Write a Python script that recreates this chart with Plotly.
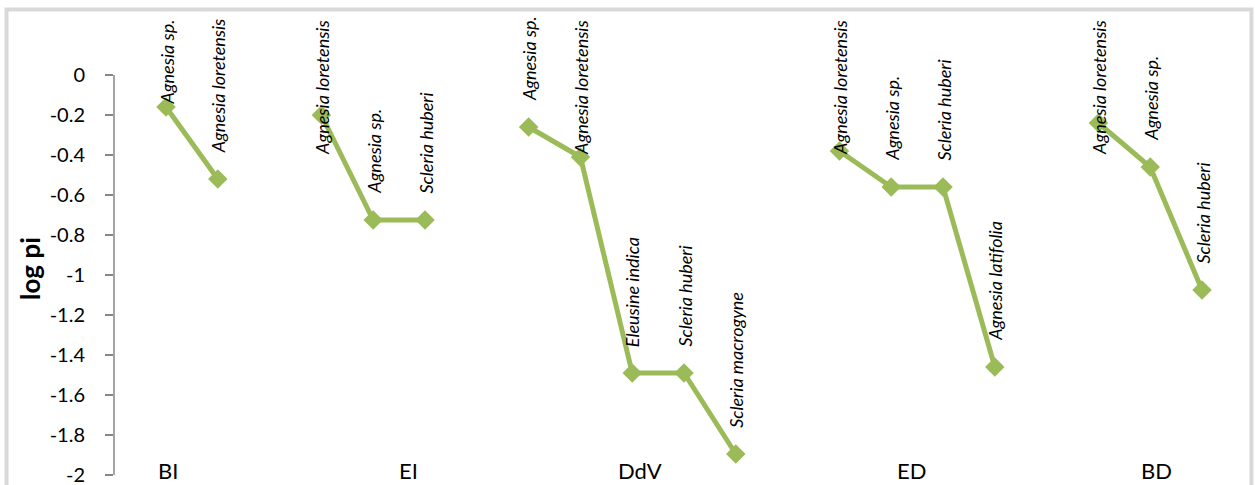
import plotly.graph_objects as go

# ---- data -------------------------------------------------------------
groups = ["BI", "EI", "DdV", "ED", "BD"]

species = [
    ["Agnesia sp.", "Agnesia loretensis"],
    ["Agnesia loretensis", "Agnesia sp.", "Scleria huberi"],
    ["Agnesia sp.", "Agnesia loretensis", "Eleusine indica", "Scleria huberi", "Scleria macrogyne"],
    ["Agnesia loretensis", "Agnesia sp.", "Scleria huberi", "Agnesia latifolia"],
    ["Agnesia loretensis", "Agnesia sp.", "Scleria huberi"],
]

log_pi = [
    [-0.16, -0.52],
    [-0.20, -0.725, -0.725],
    [-0.26, -0.41, -1.49, -1.49, -1.895],
    [-0.38, -0.56, -0.56, -1.46],
    [-0.24, -0.46, -1.075],
]

y_tick_vals = [0, -0.2, -0.4, -0.6, -0.8, -1, -1.2, -1.4, -1.6, -1.8, -2]
y_tick_text = ["0", "-0.2", "-0.4", "-0.6", "-0.8", "-1", "-1.2", "-1.4", "-1.6", "-1.8", "-2"]

# ---- styling ----------------------------------------------------------
GREEN = "#9BBB59"
AXIS_GREY = "#868686"
FONT = "Lato"
LABEL_SIZE = 18
CHAR_PX = 7.5          # approx. advance per character of the italic labels
PX_PER_UNIT = 200      # 200 px per unit of log pi
Y_BOTTOM, Y_TOP = -2.01, 0.3
LABEL_CEIL = 0.285     # labels never rise above this level
LABEL_GAP = 24         # px between a marker and its label

# x position of each group's name along the bottom
group_label_x = [0.04, 4.69, 9.15, 14.4, 19.13]

fig = go.Figure()
annotations = []

pos = 0
for g, (names, vals) in enumerate(zip(species, log_pi)):
    xs = list(range(pos, pos + len(vals)))
    fig.add_trace(go.Scatter(
        x=xs, y=vals, mode="lines+markers",
        line=dict(color=GREEN, width=5),
        marker=dict(symbol="diamond", size=15, color=GREEN),
        showlegend=False, hoverinfo="skip",
    ))
    for x, v, name in zip(xs, vals, names):
        bottom = v + LABEL_GAP / PX_PER_UNIT
        length = len(name) * CHAR_PX / PX_PER_UNIT
        if bottom + length > LABEL_CEIL:
            ay, anchor = LABEL_CEIL, "top"
        else:
            ay, anchor = bottom, "bottom"
        annotations.append(dict(
            x=x, y=ay, xref="x", yref="y", text=name, showarrow=False,
            textangle=-90, xanchor="center", yanchor=anchor,
            font=dict(family=FONT, size=LABEL_SIZE, color="black", style="italic"),
        ))
    pos += len(vals) + 1

for gx, name in zip(group_label_x, groups):
    annotations.append(dict(
        x=gx, y=-1.975, xref="x", yref="y", text=name, showarrow=False,
        xanchor="center", yanchor="middle",
        font=dict(family=FONT, size=22, color="black"),
    ))

annotations.append(dict(
    x=-0.074, y=-0.965, xref="paper", yref="y", text="<b>log pi</b>",
    showarrow=False, textangle=-90, xanchor="center", yanchor="middle",
    font=dict(family=FONT, size=26, color="black"),
))

shapes = [
    # vertical value axis
    dict(type="line", xref="paper", yref="y", x0=0, x1=0, y0=0, y1=-2,
         line=dict(color=AXIS_GREY, width=1.5)),
    # chart frame
    dict(type="rect", xref="paper", yref="paper",
         x0=-0.0946, x1=1.0013, y0=-0.05, y1=1.012,
         line=dict(color="#d9d9d9", width=4), layer="below"),
]

fig.update_layout(
    width=1255, height=485,
    margin=dict(l=114, r=5, t=15, b=8, autoexpand=False),
    paper_bgcolor="white", plot_bgcolor="white",
    annotations=annotations, shapes=shapes,
    xaxis=dict(range=[-1.0039, 20.926], showgrid=False, zeroline=False,
               showticklabels=False, ticks="", showline=False, automargin=False),
    yaxis=dict(range=[Y_BOTTOM, Y_TOP], showgrid=False, zeroline=False, showline=False,
               tickvals=y_tick_vals, ticktext=y_tick_text, ticks="outside",
               ticklen=8, tickcolor=AXIS_GREY, tickwidth=1.5,
               ticklabelstandoff=16, ticklabeloverflow="allow", automargin=False,
               tickfont=dict(family=FONT, size=20, color="black")),
)

fig.write_html("out.html")
